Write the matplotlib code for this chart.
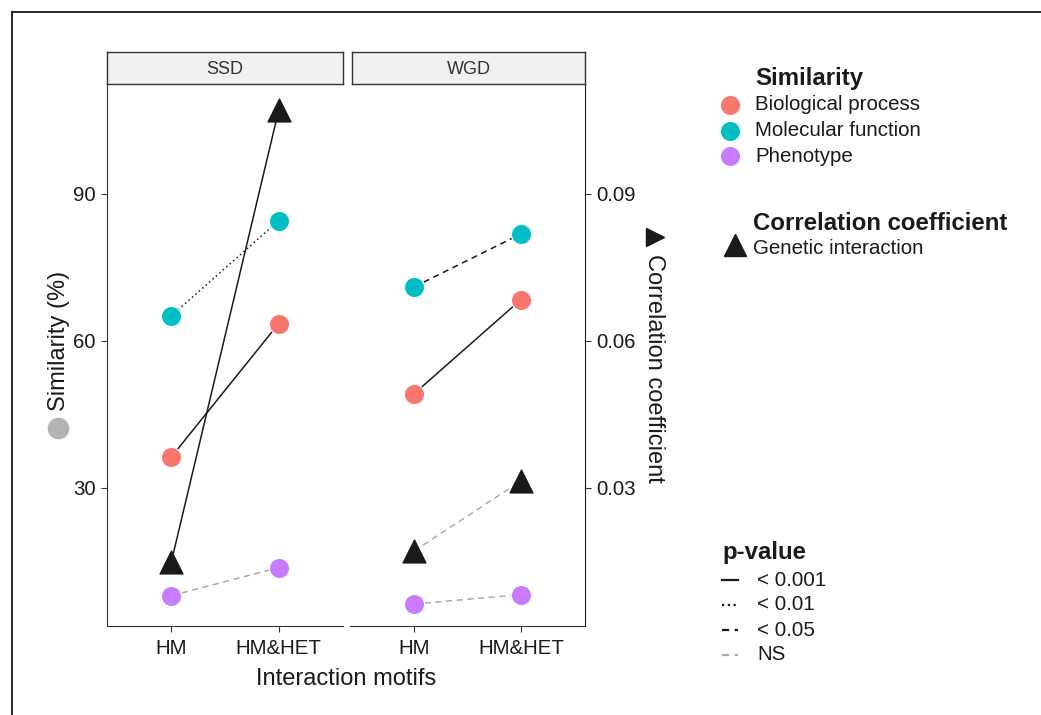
import matplotlib.pyplot as plt
from matplotlib.lines import Line2D

# values
motifs = ["HM", "HM&HET"]
groups = ["SSD", "WGD"]
categories = ["Biological process", "Molecular function", "Phenotype"]
colors = ["#F8766D", "#00BFC4", "#C77CFF"]

bio_ssd = [36.3, 63.5]
mol_ssd = [65.1, 84.5]
phe_ssd = [8.0, 13.7]
gi_ssd = [0.0149, 0.107]

bio_wgd = [49.2, 68.4]
mol_wgd = [71.0, 81.8]
phe_wgd = [6.3, 8.2]
gi_wgd = [0.0171, 0.0314]

# p-value class of each connecting line
p_ssd = ["<0.001", "<0.01", "NS", "<0.001"]
p_wgd = ["<0.001", "<0.05", "NS", "NS"]

p_labels = ["< 0.001", "< 0.01", "< 0.05", "NS"]
p_styles = {"<0.001": ("-", "#1a1a1a"),
            "<0.01": ((0, (1, 2)), "#1a1a1a"),
            "<0.05": ((0, (4, 3)), "#1a1a1a"),
            "NS": ((0, (4, 3)), "#aaaaaa")}
key_styles = {"<0.001": "-", "<0.01": (0, (1, 1.6)), "<0.05": (0, (3.2, 2.5)), "NS": (0, (3.2, 2.5))}

W, H = 1041, 715
fig = plt.figure(figsize=(W / 100, H / 100), dpi=100)
plt.rcParams['font.family'] = ['Liberation Sans', 'DejaVu Sans']

def fx(px):
    return px / W

def fy(py):
    return 1 - py / H

ymin, ymax = 1.8, 112.4
panels = [(107, 343), (350, 585)]
top, bot = 84, 626
dark = "#333333"
txt = "#1a1a1a"
tick_fs = 14.7
title_fs = 17
leg_fs = 14.8
legtitle_fs = 17.3

data = {"SSD": ([bio_ssd, mol_ssd, phe_ssd], gi_ssd, p_ssd),
        "WGD": ([bio_wgd, mol_wgd, phe_wgd], gi_wgd, p_wgd)}

axes = []
for i, g in enumerate(groups):
    l, r = panels[i]
    ax = fig.add_axes([fx(l), fy(bot), fx(r - l), fy(top) - fy(bot)])
    axes.append(ax)
    sims, gi, pv = data[g]
    x = [0, 1]
    for k in range(3):
        ls, lc = p_styles[pv[k]]
        ax.plot(x, sims[k], linestyle=ls, color=lc, lw=1.1, zorder=2)
    ls, lc = p_styles[pv[3]]
    gi_scaled = [v * 1000 for v in gi]
    ax.plot(x, gi_scaled, linestyle=ls, color=lc, lw=1.1, zorder=2)
    for k in range(3):
        ax.scatter(x, sims[k], s=210, color=colors[k], edgecolors="white",
                   linewidths=0.8, zorder=3)
    ax.scatter(x, gi_scaled, s=270, marker="^", color=txt, zorder=4)

    ax.set_xlim(-0.6, 1.6)
    ax.set_ylim(ymin, ymax)
    ax.set_xticks(x)
    ax.set_xticklabels(motifs, fontsize=tick_fs, color=txt)
    ax.tick_params(axis="x", length=4, color=dark, pad=5)
    for s in ["top", "right", "left", "bottom"]:
        ax.spines[s].set_visible(False)
    ax.spines["bottom"].set_visible(True)
    ax.spines["bottom"].set_color(dark)

    # facet strip
    sl = l + (2 if i else 0)
    sax = fig.add_axes([fx(sl), fy(top), fx(r - sl), fy(52) - fy(top)])
    sax.set_xticks([])
    sax.set_yticks([])
    sax.set_facecolor("#f0f1f0")
    for s in sax.spines.values():
        s.set_color(dark)
        s.set_linewidth(1)
    sax.text(0.5, 0.46, g, ha="center", va="center", fontsize=13, color="#333333",
             transform=sax.transAxes)

ax1, ax2 = axes
ax1.spines["left"].set_visible(True)
ax1.spines["left"].set_color(dark)
ax1.set_yticks([30, 60, 90])
ax1.tick_params(axis="y", labelsize=tick_fs, length=4, color=dark, labelcolor=txt, pad=4)

ax2.spines["right"].set_visible(True)
ax2.spines["right"].set_color(txt)
ax2.set_yticks([30, 60, 90])
ax2.set_yticklabels(["0.03", "0.06", "0.09"])
ax2.tick_params(axis="y", labelsize=tick_fs, length=4, color=dark, labelcolor=txt,
                left=False, right=True, labelleft=False, labelright=True, pad=4)

# axis titles
fig.text(fx(346), fy(679), "Interaction motifs", ha="center", va="center", fontsize=title_fs, color=txt)
fig.text(fx(59), fy(341), "Similarity (%)", rotation=90, ha="center", va="center",
         fontsize=title_fs, color=txt)
fig.add_artist(Line2D([fx(58)], [fy(428)], marker="o", markersize=14.5, color="#b3b3b3",
                      transform=fig.transFigure))
fig.add_artist(Line2D([fx(655)], [fy(237)], marker=">", markersize=13, color=txt,
                      transform=fig.transFigure))
fig.text(fx(654), fy(368), "Correlation coefficient", rotation=270, ha="center", va="center",
         fontsize=title_fs, color=txt)

# legends
fig.text(fx(755), fy(78), "Similarity", ha="left", va="center", fontsize=legtitle_fs,
         fontweight="bold", color=txt)
for k, (c, lab) in enumerate(zip(colors, categories)):
    yy = [105, 131, 156][k]
    fig.add_artist(Line2D([fx(730)], [fy(yy)], marker="o", markersize=14.5, color=c,
                          markeredgecolor="white", markeredgewidth=0.8, transform=fig.transFigure))
    fig.text(fx(755), fy(yy), lab, ha="left", va="center", fontsize=leg_fs, color=txt)

fig.text(fx(753), fy(224), "Correlation coefficient", ha="left", va="center", fontsize=legtitle_fs,
         fontweight="bold", color=txt)
fig.add_artist(Line2D([fx(735)], [fy(245)], marker="^", markersize=16, color=txt,
                      transform=fig.transFigure))
fig.text(fx(753), fy(248), "Genetic interaction", ha="left", va="center", fontsize=leg_fs, color=txt)

fig.text(fx(722), fy(553), "p-value", ha="left", va="center", fontsize=legtitle_fs,
         fontweight="bold", color=txt)
for k, key in enumerate(["<0.001", "<0.01", "<0.05", "NS"]):
    yy = 580 + 25 * k
    lc = p_styles[key][1]
    fig.add_artist(Line2D([fx(722), fx(738)], [fy(yy), fy(yy)], linestyle=key_styles[key], color=lc,
                          lw=1.6, transform=fig.transFigure))
    fig.text(fx(757), fy(yy), p_labels[k], ha="left", va="center", fontsize=leg_fs, color=txt)

# outer frame (left and top edges)
fig.add_artist(Line2D([fx(11.5), fx(11.5)], [fy(11.5), 0], color="black", lw=1.2, transform=fig.transFigure))
fig.add_artist(Line2D([fx(11.5), 1], [fy(11.5), fy(11.5)], color="black", lw=1.2, transform=fig.transFigure))

fig.savefig("out.png", dpi=100)
